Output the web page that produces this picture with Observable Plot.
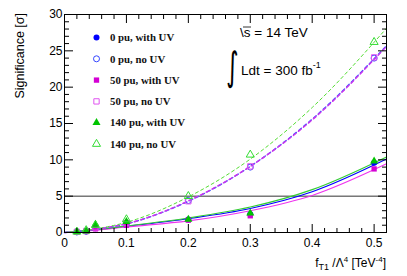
<!DOCTYPE html>
<html>
<head>
<meta charset="utf-8">
<script src="https://cdn.jsdelivr.net/npm/d3@7"></script>
<script src="https://cdn.jsdelivr.net/npm/@observablehq/plot@0.6"></script>
<style>
  html, body { margin: 0; padding: 0; background: #fff; }
  #chart { position: relative; width: 407px; height: 276px; }
</style>
</head>
<body>
<div id="chart"></div>
<script>
// ---------- data ----------
const pointX = [0.02, 0.035, 0.05, 0.1, 0.2, 0.3, 0.5];
const pu0WithUV  = [0.05, 0.15, 0.6, 1.1, 1.8, 2.5, 9.6];
const pu0NoUV    = [0.1, 0.2, 0.7, 1.3, 4.4, 9.0, 24.0];
const pu50WithUV = [0.05, 0.15, 0.5, 1.0, 1.7, 2.3, 8.75];
const pu50NoUV   = [0.1, 0.2, 0.7, 1.3, 4.3, 9.1, 24.1];
const pu140WithUV= [0.1, 0.2, 1.1, 1.5, 1.8, 2.65, 9.8];
const pu140NoUV  = [0.1, 0.3, 1.0, 1.8, 5.0, 10.7, 26.2];

// fit curves
const fitX = [0, 0.05, 0.1, 0.2, 0.3, 0.4, 0.52];
const fit0WithUV   = [0, 0.35, 0.85, 1.9, 3.3, 5.6, 10.1];
const fit0NoUV     = [0, 0.45, 1.2, 4.3, 9.1, 15.6, 25.7];
const fit50WithUV  = [0, 0.3, 0.75, 1.6, 3.0, 5.1, 9.45];
const fit50NoUV    = [0, 0.45, 1.2, 4.35, 9.1, 15.5, 25.6];
const fit140WithUV = [0, 0.4, 0.9, 2.0, 3.5, 5.9, 10.4];
const fit140NoUV   = [0, 0.5, 1.4, 4.9, 10.1, 17.2, 28.1];

const seriesNames = ["0 pu, with UV", "0 pu, no UV", "50 pu, with UV", "50 pu, no UV", "140 pu, with UV", "140 pu, no UV"];

const xMajor = [0, 0.1, 0.2, 0.3, 0.4, 0.5];
const xTickLabels = ["0", "0.1", "0.2", "0.3", "0.4", "0.5"];
const xMinor = [0.02, 0.04, 0.06, 0.08, 0.12, 0.14, 0.16, 0.18, 0.22, 0.24, 0.26, 0.28, 0.32, 0.34, 0.36, 0.38, 0.42, 0.44, 0.46, 0.48, 0.52];
const yMajor = [0, 5, 10, 15, 20, 25, 30];
const yTickLabels = ["0", "5", "10", "15", "20", "25", "30"];
const yMinor = d3.range(0, 31).filter(v => v % 5 !== 0);
const refLine = [5];

// ---------- styles ----------
const BLUE = "#0000ff", BLUE_O = "#3344ff";
const MAG = "#d400d4", MAG_O = "#e055f0";
const GRN = "#00c400", GRN_O = "#33dd33";

const pts = (ys) => pointX.map((x, i) => ({x, y: ys[i]}));
const fit = (ys) => fitX.map((x, i) => ({x, y: ys[i]}));

const R = 3;
const plot = Plot.plot({
  width: 407,
  height: 276,
  marginLeft: 64,
  marginRight: 21,
  marginTop: 14,
  marginBottom: 44,
  x: {domain: [0, 0.52]},
  y: {domain: [0, 30]},
  style: {fontFamily: "'Liberation Sans', Arial, sans-serif", fontSize: "12px", background: "#fff", color: "#000"},
  marks: [
    Plot.ruleY(refLine, {stroke: "#333", strokeWidth: 1}),
    // fits: with UV (solid)
    Plot.line(fit(fit0WithUV), {x: "x", y: "y", stroke: BLUE, strokeWidth: 1.1, curve: "monotone-x"}),
    Plot.line(fit(fit50WithUV), {x: "x", y: "y", stroke: "#ee33ee", strokeWidth: 1.1, curve: "monotone-x"}),
    Plot.line(fit(fit140WithUV), {x: "x", y: "y", stroke: "#33cc33", strokeWidth: 1.1, curve: "monotone-x"}),
    // fits: no UV (dashed)
    Plot.line(fit(fit0NoUV), {x: "x", y: "y", stroke: "#4455ff", strokeWidth: 1.4, strokeDasharray: "3.5,3", curve: "monotone-x"}),
    Plot.line(fit(fit50NoUV), {x: "x", y: "y", stroke: "#cc33ee", strokeWidth: 1.4, strokeDasharray: "3.5,3", strokeDashoffset: 0.8, curve: "monotone-x"}),
    Plot.line(fit(fit140NoUV), {x: "x", y: "y", stroke: "#55dd33", strokeWidth: 1, strokeDasharray: "3,3", curve: "monotone-x"}),
    // points
    Plot.dot(pts(pu0WithUV), {x: "x", y: "y", r: R, symbol: "circle", fill: BLUE, stroke: "none"}),
    Plot.dot(pts(pu0NoUV), {x: "x", y: "y", r: R, symbol: "circle", fill: "none", stroke: BLUE_O, strokeWidth: 1}),
    Plot.dot(pts(pu50WithUV), {x: "x", y: "y", r: R, symbol: "square", fill: MAG, stroke: "none"}),
    Plot.dot(pts(pu50NoUV), {x: "x", y: "y", r: R, symbol: "square", fill: "none", stroke: MAG_O, strokeWidth: 1}),
    Plot.dot(pts(pu140WithUV), {x: "x", y: "y", r: R, symbol: "triangle", fill: GRN, stroke: "none"}),
    Plot.dot(pts(pu140NoUV), {x: "x", y: "y", r: R, symbol: "triangle", fill: "none", stroke: GRN_O, strokeWidth: 1}),
    // frame
    Plot.frame({stroke: "#000", strokeWidth: 1}),
    // inward ticks
    Plot.axisX({anchor: "bottom", ticks: xMajor, tickSize: -8, tickFormat: () => "", label: null}),
    Plot.axisX({anchor: "bottom", ticks: xMinor, tickSize: -4, tickFormat: () => "", label: null}),
    Plot.axisX({anchor: "top", ticks: xMajor, tickSize: -8, tickFormat: () => "", label: null}),
    Plot.axisX({anchor: "top", ticks: xMinor, tickSize: -4, tickFormat: () => "", label: null}),
    Plot.axisY({anchor: "left", ticks: yMajor, tickSize: -9, tickFormat: () => "", label: null}),
    Plot.axisY({anchor: "left", ticks: yMinor, tickSize: -5, tickFormat: () => "", label: null}),
    Plot.axisY({anchor: "right", ticks: yMajor, tickSize: -9, tickFormat: () => "", label: null}),
    Plot.axisY({anchor: "right", ticks: yMinor, tickSize: -5, tickFormat: () => "", label: null}),
    // tick labels
    Plot.axisX({anchor: "bottom", ticks: xMajor, tickSize: 0, tickPadding: 6, fontSize: 12, tickFormat: d => xTickLabels[xMajor.indexOf(d)], label: null}),
    Plot.axisY({anchor: "left", ticks: yMajor, tickSize: 0, tickPadding: 2, fontSize: 12, tickFormat: d => yTickLabels[yMajor.indexOf(d)], label: null})
  ]
});
document.getElementById("chart").appendChild(plot);

// ---------- annotations, labels, legend ----------
const svg = d3.select(plot);
const sans = "'Liberation Sans', Arial, sans-serif";

// y axis title
svg.append("text")
  .attr("transform", "translate(24,13) rotate(-90)")
  .attr("text-anchor", "end")
  .attr("font-family", sans).attr("font-size", 12.5)
  .text("Significance [σ]");

// x axis title
const xt = svg.append("text")
  .attr("x", 386).attr("y", 267)
  .attr("text-anchor", "end")
  .attr("font-family", sans).attr("font-size", 12);
xt.append("tspan").text("f");
xt.append("tspan").attr("font-size", 9).attr("dy", 3).text("T1");
xt.append("tspan").attr("dy", -3).text(" /Λ");
xt.append("tspan").attr("font-size", 8).attr("dy", -5).text("4");
xt.append("tspan").attr("dy", 5).text(" [TeV");
xt.append("tspan").attr("font-size", 8).attr("dy", -5).text("-4");
xt.append("tspan").attr("dy", 5).text("]");

// sqrt(s) label
svg.append("text")
  .attr("x", 240).attr("y", 37)
  .attr("text-anchor", "start")
  .attr("font-family", sans).attr("font-size", 13.5)
  .text("\\s = 14 TeV");
svg.append("line").attr("x1", 243).attr("x2", 251).attr("y1", 27).attr("y2", 27)
  .attr("stroke", "#000").attr("stroke-width", 0.8);

// luminosity label
svg.append("text")
  .attr("text-anchor", "start")
  .attr("transform", "translate(226,80) scale(0.8,1.3)")
  .attr("font-family", "'DejaVu Sans', sans-serif").attr("font-size", 30)
  .text("∫");
const lt = svg.append("text")
  .attr("x", 241).attr("y", 75)
  .attr("text-anchor", "start")
  .attr("font-family", sans).attr("font-size", 13.5);
lt.append("tspan").text("Ldt = 300 fb");
lt.append("tspan").attr("font-size", 9).attr("dy", -7).text("-1");

// legend
const legendItems = [
  {name: seriesNames[0], sym: d3.symbolCircle, fill: BLUE, stroke: "none"},
  {name: seriesNames[1], sym: d3.symbolCircle, fill: "none", stroke: BLUE_O},
  {name: seriesNames[2], sym: d3.symbolSquare, fill: MAG, stroke: "none"},
  {name: seriesNames[3], sym: d3.symbolSquare, fill: "none", stroke: MAG_O},
  {name: seriesNames[4], sym: d3.symbolTriangle, fill: GRN, stroke: "none"},
  {name: seriesNames[5], sym: d3.symbolTriangle, fill: "none", stroke: GRN_O}
];
const lg = svg.append("g");
legendItems.forEach((d, i) => {
  const y = 37.5 + i * 21.3;
  lg.append("path")
    .attr("d", d3.symbol(d.sym, Math.PI * R * R)())
    .attr("transform", `translate(96.5,${y})`)
    .attr("fill", d.fill).attr("stroke", d.stroke).attr("stroke-width", 1);
  lg.append("text")
    .attr("x", 110).attr("y", y).attr("dy", "0.35em")
    .attr("text-anchor", "start")
    .attr("font-family", "'Liberation Serif', 'Times New Roman', serif")
    .attr("font-weight", "bold").attr("font-size", 10.8)
    .attr("fill", "#111")
    .text(d.name);
});
</script>
</body>
</html>
